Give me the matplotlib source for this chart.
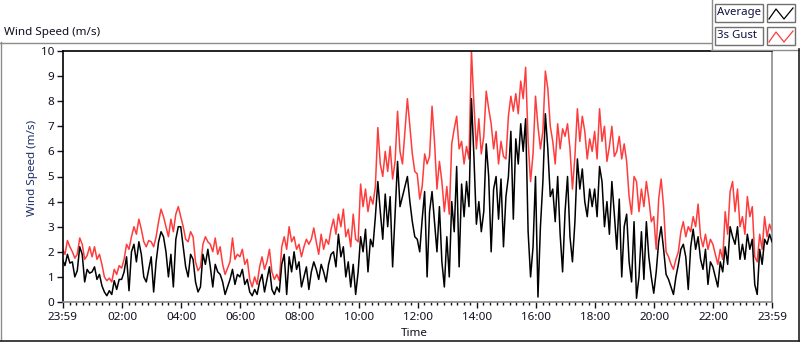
import matplotlib

matplotlib.use("Agg")
import matplotlib.pyplot as plt
import numpy as np
from matplotlib.lines import Line2D
from matplotlib.patches import Rectangle

# 5-minute samples from 23:59 to 23:59, one row per hour
gust = [
    2.1, 1.9, 2.45, 2.2, 2.0, 1.75, 1.9, 2.55, 2.3, 1.7, 1.85, 2.2,
    1.8, 2.2, 1.7, 1.9, 1.5, 1.0, 0.85, 0.95, 0.8, 1.3, 1.1, 1.45,
    1.35, 1.7, 2.3, 2.1, 2.6, 3.0, 2.7, 3.3, 2.9, 2.4, 2.2, 2.45,
    2.4, 2.2, 2.6, 3.2, 3.7, 3.4, 3.0, 2.6, 3.3, 2.8, 3.5, 3.8,
    3.4, 3.0, 2.5, 2.4, 2.8, 2.6, 1.6, 1.25, 1.4, 2.3, 2.6, 2.4,
    2.3, 2.0, 2.55, 1.9, 2.2, 1.5, 1.1, 1.35, 1.6, 2.55, 1.7, 1.9,
    1.8, 2.1, 1.5, 1.7, 0.9, 0.6, 1.0, 0.7, 1.4, 1.8, 1.3, 1.6,
    2.1, 1.2, 0.9, 1.1, 0.85, 2.2, 2.6, 2.1, 3.0, 2.4, 2.6, 2.1,
    2.3, 1.8, 2.2, 2.5, 2.3, 2.5, 2.95, 2.4, 1.9, 2.7, 2.1, 2.5,
    2.3, 2.9, 3.3, 2.7, 3.5, 3.0, 3.7, 2.6, 2.9, 2.2, 3.5, 2.5,
    2.4, 4.7, 3.8, 4.5, 3.6, 4.2, 3.9, 4.6, 6.95, 5.5, 5.0, 6.0,
    5.2, 6.2, 4.9, 5.6, 7.6, 6.0, 5.5, 6.8, 8.1, 7.0, 5.9, 5.2,
    5.1, 4.1, 4.6, 5.9, 5.5, 5.8, 7.8, 6.4, 4.5, 5.6, 4.8, 3.6,
    4.6, 3.5, 6.3, 6.9, 7.4, 6.1, 6.4, 5.5, 6.2, 5.7, 10.0, 7.9,
    6.1, 7.3, 5.9, 6.6, 8.4, 7.7, 7.1, 6.1, 6.8, 5.5, 6.4, 5.8,
    5.7, 7.4, 8.2, 7.6, 8.3, 7.5, 8.8, 8.1, 9.35, 6.4, 4.8, 5.9,
    8.2, 7.0, 6.1, 6.8, 9.2, 8.5, 7.0, 6.4, 5.5, 7.1, 6.1, 6.9,
    6.6, 7.1, 6.1, 4.5, 5.8, 7.7, 6.4, 7.4, 6.8, 5.7, 6.5, 6.0,
    6.8, 5.7, 7.7, 6.4, 7.0, 5.6, 6.2, 7.0, 5.8, 6.0, 6.6, 5.7,
    6.3, 5.6, 4.2, 3.5, 5.0, 4.8, 3.6, 4.5, 3.8, 4.8, 4.1, 3.2,
    3.4, 2.1, 4.1, 4.9, 3.8, 2.0, 1.8, 1.5, 1.3, 1.7, 2.0, 2.8,
    3.2, 2.6, 3.0, 2.8, 3.4, 3.0, 3.9, 2.6, 2.2, 2.7, 2.1, 2.5,
    2.3, 1.9, 1.5, 2.1, 1.7, 3.6, 2.7, 4.4, 4.8, 3.6, 4.5, 3.0,
    3.4, 2.7, 4.2, 3.4, 3.8, 1.8, 1.6, 2.7, 2.1, 3.4, 2.6, 3.1,
    2.8,
]
avg = [
    1.7, 1.45, 1.9, 1.55, 1.6, 1.0, 1.25, 2.2, 1.9, 0.8, 1.3, 1.15,
    1.2, 1.4, 0.9, 1.1, 0.65, 0.4, 0.25, 0.45, 0.3, 0.85, 0.5, 0.9,
    0.9, 1.2, 1.8, 0.45, 2.0, 2.3, 1.6, 2.4, 1.9, 1.0, 0.8, 1.3,
    1.8, 0.4, 1.6, 2.4, 2.8, 2.6, 2.0, 1.0, 1.9, 0.6, 2.5, 3.0,
    3.0, 2.2, 1.4, 1.0, 1.9, 1.7, 0.8, 0.4, 0.6, 1.9, 1.5, 2.1,
    1.4, 0.6, 1.5, 1.2, 1.1, 0.8, 0.3, 0.6, 0.9, 1.3, 0.7, 1.1,
    1.0, 1.3, 0.7, 0.9, 0.4, 0.25, 0.5, 0.3, 0.8, 1.1, 0.4, 0.9,
    1.4, 0.5, 0.3, 0.6, 0.4, 1.5, 1.9, 0.3, 1.8, 1.2, 2.0, 1.3,
    1.6, 0.6, 1.0, 1.4, 0.5, 1.2, 1.6, 1.3, 0.9, 1.5, 1.2, 0.8,
    1.5, 1.9, 2.0, 1.4, 2.7, 1.8, 2.2, 1.0, 1.6, 0.6, 1.5, 0.3,
    1.2, 2.6, 2.0, 2.9, 1.2, 2.5, 2.2, 3.4, 4.8, 3.6, 2.5, 4.3,
    3.0, 4.2, 1.4, 3.5, 5.6, 3.8, 4.2, 4.6, 5.0, 4.0, 3.2, 2.6,
    2.5, 2.0, 3.3, 4.4, 1.0, 3.6, 4.4, 3.2, 2.0, 3.8, 1.6, 0.6,
    2.6, 1.0, 4.0, 2.8, 5.4, 1.4, 4.7, 3.4, 4.8, 3.8, 8.1, 5.8,
    3.1, 4.0, 2.8, 3.6, 6.3, 5.0, 2.0, 4.5, 5.0, 3.3, 4.9, 2.2,
    4.2, 5.0, 6.8, 3.3, 6.5, 5.5, 7.1, 6.0, 7.3, 2.8, 1.0, 2.2,
    5.0, 0.2, 3.0, 4.8, 7.5, 6.1, 4.2, 4.5, 3.2, 5.0, 2.7, 1.2,
    3.6, 5.0, 2.6, 1.6, 3.2, 5.7, 4.5, 5.3, 4.0, 3.4, 4.5, 3.8,
    4.5, 3.4, 5.4, 4.8, 3.0, 4.0, 2.7, 4.8, 3.5, 2.1, 4.1, 1.0,
    3.0, 3.5, 1.6, 0.8, 3.2, 0.15, 1.0, 2.8, 0.9, 3.2, 1.8, 1.0,
    0.35, 1.2, 2.4, 3.0, 2.1, 1.1, 0.9, 0.6, 0.3, 1.0, 1.5, 2.1,
    2.3, 1.8, 0.5, 2.2, 2.9, 2.1, 2.6, 1.7, 1.3, 2.1, 0.7, 1.6,
    1.4, 1.0, 0.6, 1.6, 1.2, 2.2, 1.5, 3.0, 2.6, 2.3, 3.0, 1.7,
    2.3, 1.7, 2.7, 2.1, 2.5, 0.7, 0.3, 2.1, 1.5, 2.5, 2.3, 2.7,
    2.4,
]
tick_min = [0, 121, 241, 361, 481, 601, 721, 841, 961, 1081, 1201, 1321, 1440]
tick_lbl = ["23:59", "02:00", "04:00", "06:00", "08:00", "10:00", "12:00",
            "14:00", "16:00", "18:00", "20:00", "22:00", "23:59"]

W, H = 800, 342
RED = "#ff3c3c"
INK = "#101020"
FRAME = "#8c8c8c"
FS = 8.4
plt.rcParams.update({"font.family": ["Noto Sans", "DejaVu Sans"], "font.size": FS})

fig = plt.figure(figsize=(W / 100, H / 100), dpi=100)
T = fig.transFigure


def fx(x):
    return x / W


def fy(y):
    return 1 - y / H


def hline(x0, x1, y, color, lw=1.0):
    fig.add_artist(Line2D([fx(x0), fx(x1)], [fy(y), fy(y)], transform=T, color=color, lw=lw))


def vline(x, y0, y1, color, lw=1.0):
    fig.add_artist(Line2D([fx(x), fx(x)], [fy(y0), fy(y1)], transform=T, color=color, lw=lw))


# outer panel frame
hline(0, 711, 42.5, FRAME)
vline(711.5, 0, 49, FRAME)
hline(711, 799, 49.5, FRAME)
vline(0.5, 42, 341, FRAME)
hline(0, 800, 341, "#202020", 1.2)
vline(799, 49, 341, "#202020", 1.2)

fig.text(fx(4), fy(32), "Wind Speed (m/s)", ha="left", va="center", color=INK)

# plot area
L, R, TOP, BOT = 62.5, 772, 51, 302
ax = fig.add_axes([fx(L), fy(BOT), fx(R) - fx(L), fy(TOP) - fy(BOT)])
mins = np.arange(len(gust)) * 5
ax.plot(mins, gust, color=RED, lw=1.1, zorder=2)
ax.plot(mins, avg, color="black", lw=1.1, zorder=3)
ax.set_xlim(0, 1440)
ax.set_ylim(0, 10)

ax.spines["top"].set_color("black")
ax.spines["left"].set_color("black")
ax.spines["bottom"].set_color(FRAME)
ax.spines["right"].set_color(FRAME)
for s in ax.spines.values():
    s.set_linewidth(1.2)

ax.set_yticks(range(0, 11))
ax.set_xticks(tick_min)
ax.set_xticklabels(tick_lbl)
minor = [m for m in np.arange(1, 1441, 120 / 9) if all(abs(m - t) > 2 for t in tick_min)]
ax.set_xticks(minor, minor=True)
ax.tick_params(axis="y", length=4, width=1, color=INK, labelcolor=INK, labelsize=FS, pad=2)
ax.tick_params(axis="x", length=4, width=1, color=INK, labelcolor=INK, labelsize=FS, pad=3)
ax.tick_params(axis="x", which="minor", length=2, width=1, color=INK)

fig.text(fx(414), fy(334), "Time", ha="center", va="center", color=INK)
fig.text(fx(32), fy(168), "Wind Speed (m/s)", ha="center", va="center", rotation=90,
         color="#1c2f66")

# legend boxes
for i, (name, col) in enumerate([("Average", "black"), ("3s Gust", RED)]):
    y0 = 4 + i * 23
    fig.add_artist(Rectangle((fx(715), fy(y0 + 18)), fx(763) - fx(715), fy(y0) - fy(y0 + 18),
                             transform=T, facecolor="white", edgecolor="#707070", lw=1.0))
    fig.text(fx(717), fy(y0 + 9), name, ha="left", va="center", color="#101040", fontsize=8.2)
    fig.add_artist(Rectangle((fx(767), fy(y0 + 18)), fx(795) - fx(767), fy(y0) - fy(y0 + 18),
                             transform=T, facecolor="white", edgecolor="#707070", lw=1.0))
    fig.add_artist(Line2D([fx(v) for v in [769, 776, 784, 793]],
                          [fy(v) for v in [y0 + 15, y0 + 5, y0 + 15, y0 + 4]],
                          transform=T, color=col, lw=0.9))

fig.savefig("out.png", dpi=100)
